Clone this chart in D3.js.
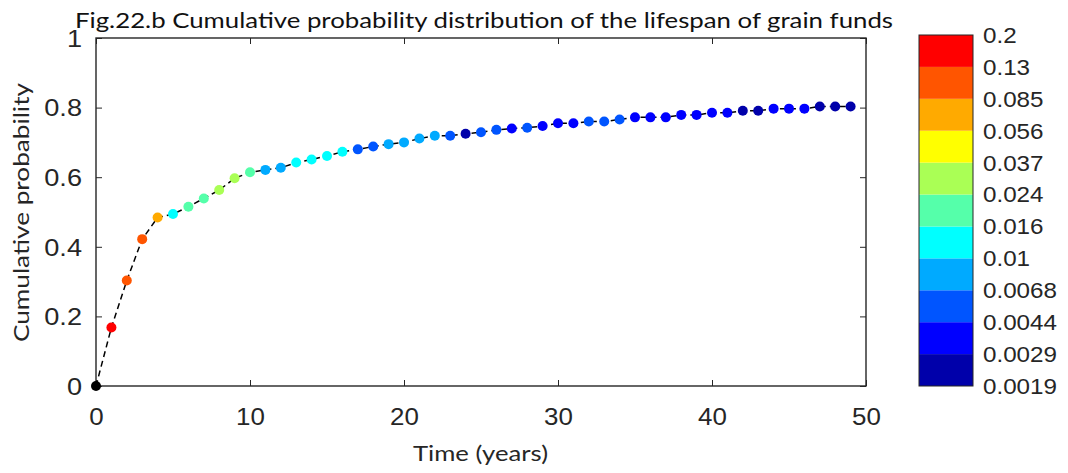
<!DOCTYPE html>
<html>
<head>
<meta charset="utf-8">
<script src="https://cdn.jsdelivr.net/npm/d3@7"></script>
<style>
  html, body { margin: 0; padding: 0; background: #fff; }
  svg { display: block; }
</style>
</head>
<body>
<svg id="chart" width="1068" height="473"></svg>
<script>
// ---------------- data ----------------
const years = [0,1,2,3,4,5,6,7,8,9,10,11,12,13,14,15,16,17,18,19,20,21,22,23,24,25,26,27,28,29,30,31,32,33,34,35,36,37,38,39,40,41,42,43,44,45,46,47,48,49];
const cumulative = [0,0.168,0.303,0.422,0.484,0.494,0.515,0.539,0.563,0.597,0.614,0.621,0.627,0.642,0.651,0.661,0.673,0.680,0.688,0.695,0.700,0.711,0.719,0.719,0.725,0.729,0.736,0.740,0.742,0.747,0.755,0.755,0.760,0.760,0.766,0.772,0.772,0.772,0.779,0.779,0.785,0.785,0.791,0.791,0.797,0.797,0.797,0.803,0.803,0.803];
// probability density of each year (colour value)
const density = [0,0.17,0.105,0.105,0.069,0.0126,0.0196,0.0196,0.030,0.030,0.0196,0.0082,0.0082,0.0126,0.0126,0.0126,0.0126,0.0055,0.0055,0.0082,0.0082,0.0082,0.0082,0.0055,0.0024,0.0055,0.0055,0.0036,0.0055,0.0036,0.0036,0.0036,0.0055,0.0055,0.0055,0.0036,0.0036,0.0036,0.0036,0.0036,0.0036,0.0036,0.0024,0.0024,0.0036,0.0036,0.0036,0.0024,0.0024,0.0024];

const xTicks = [0,10,20,30,40,50];
const xTickLabels = ["0","10","20","30","40","50"];
const yTicks = [0,0.2,0.4,0.6,0.8,1];
const yTickLabels = ["0","0.2","0.4","0.6","0.8","1"];
// colour-bar level boundaries, bottom to top
const levels = [0.0019,0.0029,0.0044,0.0068,0.01,0.016,0.024,0.037,0.056,0.085,0.13,0.2];
const levelLabels = ["0.0019","0.0029","0.0044","0.0068","0.01","0.016","0.024","0.037","0.056","0.085","0.13","0.2"];
// jet(11), bottom to top
const jetColors = ["#0000aa","#0000ff","#0055ff","#00aaff","#00ffff","#55ffaa","#aaff55","#ffff00","#ffaa00","#ff5500","#ff0000"];

const titleText = "Fig.22.b Cumulative probability distribution of the lifespan of grain funds";
const xLabel = "Time (years)";
const yLabel = "Cumulative probability";

// ---------------- layout ----------------
const svg = d3.select("#chart");
const x = d3.scaleLinear().domain([0, 50]).range([96, 866]);
const y = d3.scaleLinear().domain([0, 1]).range([386, 38]);
const axisColor = "#262626";
const numFont = "'Liberation Sans', Arial, sans-serif";
const txtFont = "Lato, 'Open Sans', sans-serif";

const color = d3.scaleThreshold()
  .domain(levels.slice(0, levels.length - 1))
  .range(["#000000"].concat(jetColors));

// axes
function styleAxis(g) {
  g.select(".domain").remove();
  g.selectAll(".tick line").attr("stroke", axisColor).attr("stroke-width", 1);
}

const gx = svg.append("g").attr("transform", `translate(0,${y(0)})`)
  .call(d3.axisBottom(x).tickValues(xTicks).tickFormat((d, i) => xTickLabels[i])
    .tickSizeInner(-6).tickSizeOuter(0).tickPadding(22));
styleAxis(gx);
gx.selectAll(".tick text")
  .attr("fill", axisColor).style("font-family", numFont).style("font-size", "24px")
  .attr("transform", "scale(1.08,1)");

const gxt = svg.append("g").attr("transform", `translate(0,${y(1)})`)
  .call(d3.axisTop(x).tickValues(xTicks).tickFormat("").tickSizeInner(-6).tickSizeOuter(0));
styleAxis(gxt);

const gy = svg.append("g").attr("transform", `translate(${x(0)},0)`)
  .call(d3.axisLeft(y).tickValues(yTicks).tickFormat((d, i) => yTickLabels[i])
    .tickSizeInner(-6).tickSizeOuter(0).tickPadding(0));
styleAxis(gy);
gy.selectAll(".tick text")
  .attr("fill", axisColor).style("font-family", numFont).style("font-size", "23px")
  .attr("x", 0).attr("transform", "translate(-14,1) scale(1.18,1)");

const gyr = svg.append("g").attr("transform", `translate(${x(50)},0)`)
  .call(d3.axisRight(y).tickValues(yTicks).tickFormat("").tickSizeInner(-6).tickSizeOuter(0));
styleAxis(gyr);

// box
svg.append("rect")
  .attr("x", x(0)).attr("y", y(1))
  .attr("width", x(50) - x(0)).attr("height", y(0) - y(1))
  .attr("fill", "none").attr("stroke", axisColor).attr("stroke-width", 1.4);

// dashed line
const line = d3.line().x((d, i) => x(years[i])).y(d => y(d));
svg.append("path")
  .datum(cumulative)
  .attr("d", line)
  .attr("fill", "none")
  .attr("stroke", "#000")
  .attr("stroke-width", 1.5)
  .attr("stroke-dasharray", "6,4");

// markers
svg.append("g").selectAll("circle")
  .data(cumulative)
  .join("circle")
  .attr("cx", (d, i) => x(years[i]))
  .attr("cy", d => y(d))
  .attr("r", 5)
  .attr("fill", (d, i) => color(density[i]));

// colour bar
const cbX = 919, cbW = 54;
const cbY = d3.scaleLinear().domain([0, levels.length - 1]).range([386, 35]);
const cb = svg.append("g");
cb.selectAll("rect.band")
  .data(jetColors)
  .join("rect")
  .attr("class", "band")
  .attr("x", cbX).attr("width", cbW)
  .attr("y", (d, i) => cbY(i + 1))
  .attr("height", (d, i) => cbY(i) - cbY(i + 1))
  .attr("fill", d => d);
cb.append("rect")
  .attr("x", cbX).attr("y", cbY(levels.length - 1))
  .attr("width", cbW).attr("height", cbY(0) - cbY(levels.length - 1))
  .attr("fill", "none").attr("stroke", axisColor).attr("stroke-width", 1);
cb.selectAll("text")
  .data(levelLabels)
  .join("text")
  .attr("transform", (d, i) => `translate(${cbX + cbW + 10},${cbY(i)}) scale(1.1,1)`)
  .attr("dy", "0.36em")
  .attr("fill", axisColor)
  .style("font-family", numFont)
  .style("font-size", "22px")
  .text(d => d);

// title
svg.append("text")
  .attr("x", 75).attr("y", 28)
  .attr("textLength", 818).attr("lengthAdjust", "spacingAndGlyphs")
  .style("font-family", txtFont).style("font-size", "21px")
  .attr("fill", "#111")
  .text(titleText);

// x label
svg.append("text")
  .attr("x", 413).attr("y", 461)
  .attr("textLength", 135).attr("lengthAdjust", "spacingAndGlyphs")
  .style("font-family", txtFont).style("font-size", "22px")
  .attr("fill", axisColor)
  .text(xLabel);

// y label
svg.append("text")
  .attr("transform", "translate(29,342) rotate(-90)")
  .attr("textLength", 259).attr("lengthAdjust", "spacingAndGlyphs")
  .style("font-family", txtFont).style("font-size", "21px")
  .attr("fill", axisColor)
  .text(yLabel);
</script>
</body>
</html>
